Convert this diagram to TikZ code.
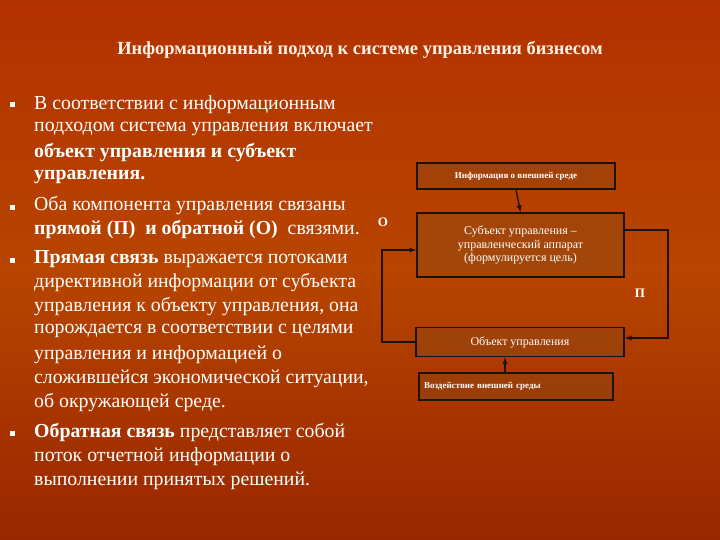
\documentclass[tikz,border=0pt]{standalone}
\usepackage{fontspec}
\setmainfont{LiberationSerif}[Extension=.ttf,UprightFont=*-Regular,BoldFont=*-Bold,ItalicFont=*-Italic,BoldItalicFont=*-BoldItalic]
\begin{document}
\begin{tikzpicture}[x=1pt,y=-1pt,
  txt/.style={anchor=west,inner sep=0pt,text=white,font=\fontsize{19.8}{21}\selectfont},
  bul/.style={fill=white,minimum size=5pt,inner sep=0pt},
  box/.style={draw=black!85!brown,line width=1.6pt,fill=brown!70!orange!60!black,fill opacity=0.35,text opacity=1,text=white,inner sep=0pt,align=center},
  con/.style={draw=black!85!brown,line width=1.3pt,-latex},
  lab/.style={text=white,font=\bfseries\fontsize{13}{14}\selectfont}]
\shade[top color=orange!55!red!70!black,bottom color=orange!50!red!60!black,middle color=orange!75!red!72!black] (0,0) rectangle (720,540);
\useasboundingbox (0,0) rectangle (720,540);
\node[text=white!90!orange,font=\bfseries\fontsize{18.5}{20}\selectfont] (title) at (360,50) {Информационный подход к системе управления бизнесом};
\foreach \y [count=\i] in {105,208,260,433} \node[bul] (b\i) at (12,\y) {};
\node[txt] (l1) at (34,105) {В соответствии с информационным};
\node[txt] (l2) at (34,129) {подходом система управления включает};
\node[txt] (l3) at (34,153) {\textbf{объект управления и субъект}};
\node[txt] (l4) at (34,177) {\textbf{управления.}};
\node[txt] (l5) at (34,206) {Оба компонента управления связаны};
\node[txt] (l6) at (34,230) {\textbf{прямой (П) \ и обратной (О)} \ связями.};
\node[txt] (l7) at (34,259) {\textbf{Прямая связь} выражается потоками};
\node[txt] (l8) at (34,283) {директивной информации от субъекта};
\node[txt] (l9) at (34,307) {управления к объекту управления, она};
\node[txt] (l10) at (34,331) {порождается в соответствии с целями};
\node[txt] (l11) at (34,355) {управления и информацией о};
\node[txt] (l12) at (34,379) {сложившейся экономической ситуации,};
\node[txt] (l13) at (34,403) {об окружающей среде.};
\node[txt] (l14) at (34,433) {\textbf{Обратная связь} представляет собой};
\node[txt] (l15) at (34,457) {поток отчетной информации о};
\node[txt] (l16) at (34,481) {выполнении принятых решений.};
\node[box,minimum width=198pt,minimum height=26pt,font=\bfseries\fontsize{9}{10}\selectfont] (info) at (516,176) {Информация о внешней среде};
\node[box,minimum width=207pt,minimum height=64pt,font=\fontsize{12}{13}\selectfont] (subj) at (520.5,245) {Субъект управления --\\управленческий аппарат\\(формулируется цель)};
\node[box,minimum width=208pt,minimum height=29pt,font=\fontsize{12}{13}\selectfont] (obj) at (520,342) {Объект управления};
\node[box,minimum width=194pt,minimum height=27pt,font=\bfseries\fontsize{9}{10}\selectfont,text width=184pt,align=left] (env) at (516,386.5) {Воздействие внешней среды};
\draw[con] (info.south) -- (subj.north);
\draw[con] (env.north -| 505,0) -- (obj.south -| 505,0);
\draw[con] (obj.west) -- (382,342) -- (382,250) -- (subj.west |- 0,250);
\draw[con] (subj.east |- 0,230) -- (668,230) -- (668,338) -- (obj.east |- 0,338);
\node[lab] (O) at (383,222) {О};
\node[lab] (P) at (640,293) {П};
\end{tikzpicture}
\end{document}
